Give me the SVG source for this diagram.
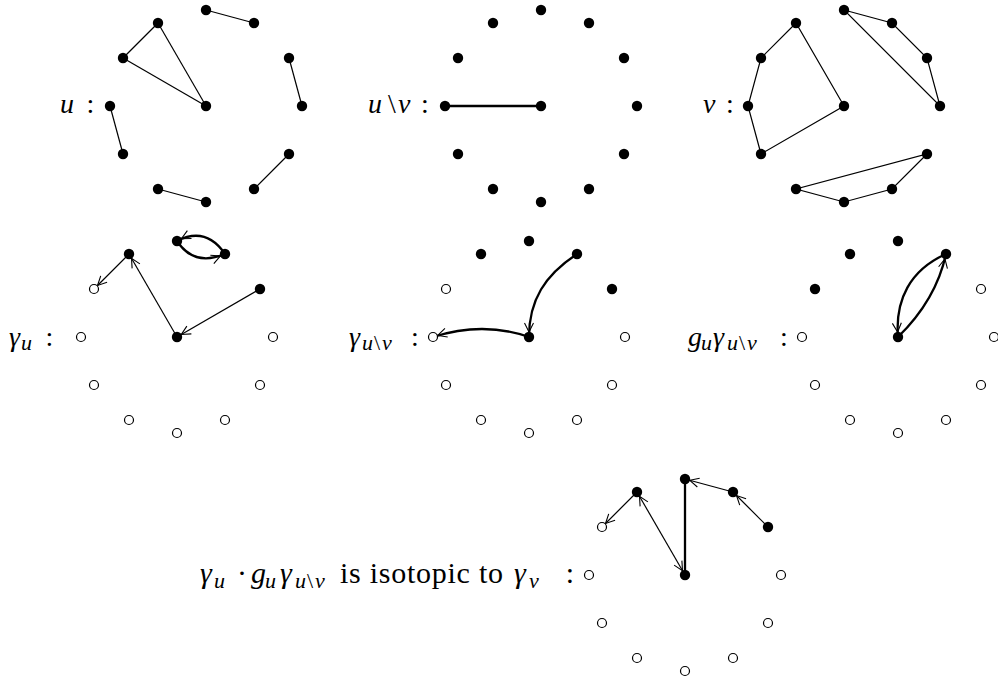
<svg xmlns="http://www.w3.org/2000/svg" width="998" height="681" viewBox="0 0 998 681">
<style>
.f{fill:#000}
.o{fill:#fff;stroke:#000;stroke-width:1.2}
.e{stroke:#000;stroke-width:1.2;fill:none}
.t{stroke:#000;stroke-width:2.3;fill:none}
.lbl{font-size:28px;fill:#000}
.big{font-size:30px}
.it{font-style:italic}
.sub{font-size:22px}
.mid{text-anchor:middle}
.ae{marker-end:url(#ah)}
.as{marker-start:url(#ahs)}
</style>
<defs>
<marker id="ah" markerUnits="userSpaceOnUse" markerWidth="20" markerHeight="14" viewBox="0 0 20 14" refX="15" refY="7" orient="auto">
<path d="M1,2.5 L10,7 L1,11.5" fill="none" stroke="#000" stroke-width="1.1"/>
</marker>
<marker id="ahs" markerUnits="userSpaceOnUse" markerWidth="20" markerHeight="14" viewBox="0 0 20 14" refX="15" refY="7" orient="auto-start-reverse">
<path d="M1,2.5 L10,7 L1,11.5" fill="none" stroke="#000" stroke-width="1.1"/>
</marker>
</defs>

<g id="labels" font-family="Liberation Serif, serif">
<text class="lbl it" x="60" y="113">u</text>
<text class="lbl mid" x="90.5" y="113">:</text>

<text class="lbl" y="113"><tspan class="it" x="368">u</tspan><tspan x="388">\</tspan><tspan class="it" x="398">v</tspan></text>
<text class="lbl mid" x="425" y="113">:</text>

<text class="lbl it" x="703" y="113">v</text>
<text class="lbl mid" x="730" y="113">:</text>

<text class="lbl"><tspan class="it" x="9" y="346">γ</tspan><tspan class="it sub" x="21" y="350">u</tspan></text>
<text class="lbl mid" x="49.5" y="346">:</text>

<text class="lbl"><tspan class="it" x="349" y="346">γ</tspan><tspan class="it sub" x="362" y="350">u</tspan><tspan class="sub" x="374" y="350">\</tspan><tspan class="it sub" x="382" y="350">v</tspan></text>
<text class="lbl mid" x="415" y="346">:</text>

<text class="lbl"><tspan class="it" x="688" y="346">g</tspan><tspan class="it sub" x="701" y="350">u</tspan><tspan class="it" x="713" y="346">γ</tspan><tspan class="it sub" x="727" y="350">u</tspan><tspan class="sub" x="739" y="350">\</tspan><tspan class="it sub" x="747" y="350">v</tspan></text>
<text class="lbl mid" x="784" y="346">:</text>

<text class="lbl big"><tspan class="it" x="200" y="583">γ</tspan><tspan class="it sub" x="214" y="588">u</tspan><tspan x="237" y="583">·</tspan><tspan class="it" x="251" y="583">g</tspan><tspan class="it sub" x="265" y="588">u</tspan><tspan class="it" x="280" y="583">γ</tspan><tspan class="it sub" x="295" y="588">u</tspan><tspan class="sub" x="307" y="588">\</tspan><tspan class="it sub" x="315" y="588">v</tspan><tspan x="340" y="583" textLength="163" lengthAdjust="spacing">is isotopic to</tspan><tspan class="it" x="514" y="583">γ</tspan><tspan class="it sub" x="529" y="588">v</tspan></text>
<text class="lbl big mid" x="570" y="583">:</text>
</g>

<g id="connectors">
<line class="e" x1="158" y1="23" x2="123" y2="58"/>
<line class="e" x1="123" y1="58" x2="206" y2="106"/>
<line class="e" x1="158" y1="23" x2="206" y2="106"/>
<line class="e" x1="206" y1="10" x2="254" y2="23"/>
<line class="e" x1="289" y1="58" x2="302" y2="106"/>
<line class="e" x1="110" y1="106" x2="123" y2="154"/>
<line class="e" x1="158" y1="189" x2="206" y2="202"/>
<line class="e" x1="254" y1="189" x2="289" y2="154"/>
<line class="t" x1="445" y1="106" x2="541" y2="106"/>
<polygon class="e" points="796,23 761,58 748,106 761,154 844,106"/>
<polygon class="e" points="844,10 892,23 927,58 940,106"/>
<polygon class="e" points="927,154 892,189 844,202 796,189"/>
<line class="e ae" x1="260" y1="289" x2="177" y2="337"/>
<line class="e ae" x1="177" y1="337" x2="129" y2="254"/>
<line class="e ae" x1="129" y1="254" x2="94" y2="289"/>
<path class="t ae" d="M225,254 Q206,226 177,241"/>
<path class="t ae" d="M177,241 Q194,267 225,254"/>
<path class="t ae" d="M577,254 C545,275 529,300 529,337"/>
<path class="t ae" d="M529,337 Q483,321 433,337"/>
<path class="t ae" d="M946,254 C910,270 895,300 898,337"/>
<path class="t ae" d="M898,337 Q936,300 946,254"/>
<line class="e ae" x1="768" y1="527" x2="733" y2="492"/>
<line class="e ae" x1="733" y1="492" x2="685" y2="479"/>
<line class="t" x1="685" y1="479" x2="685" y2="575"/>
<line class="e ae as" x1="685" y1="575" x2="637" y2="492"/>
<line class="e ae" x1="637" y1="492" x2="602" y2="527"/>
</g>

<g id="nodes-u">
<g id="u-c"><circle class="f" cx="206" cy="106" r="5.2"/></g>
<g id="u-0"><circle class="f" cx="206" cy="10" r="5.2"/></g>
<g id="u-1"><circle class="f" cx="254" cy="23" r="5.2"/></g>
<g id="u-2"><circle class="f" cx="289" cy="58" r="5.2"/></g>
<g id="u-3"><circle class="f" cx="302" cy="106" r="5.2"/></g>
<g id="u-4"><circle class="f" cx="289" cy="154" r="5.2"/></g>
<g id="u-5"><circle class="f" cx="254" cy="189" r="5.2"/></g>
<g id="u-6"><circle class="f" cx="206" cy="202" r="5.2"/></g>
<g id="u-7"><circle class="f" cx="158" cy="189" r="5.2"/></g>
<g id="u-8"><circle class="f" cx="123" cy="154" r="5.2"/></g>
<g id="u-9"><circle class="f" cx="110" cy="106" r="5.2"/></g>
<g id="u-10"><circle class="f" cx="123" cy="58" r="5.2"/></g>
<g id="u-11"><circle class="f" cx="158" cy="23" r="5.2"/></g>
</g>

<g id="nodes-uv">
<g id="uv-c"><circle class="f" cx="541" cy="106" r="5.2"/></g>
<g id="uv-0"><circle class="f" cx="541" cy="10" r="5.2"/></g>
<g id="uv-1"><circle class="f" cx="589" cy="23" r="5.2"/></g>
<g id="uv-2"><circle class="f" cx="624" cy="58" r="5.2"/></g>
<g id="uv-3"><circle class="f" cx="637" cy="106" r="5.2"/></g>
<g id="uv-4"><circle class="f" cx="624" cy="154" r="5.2"/></g>
<g id="uv-5"><circle class="f" cx="589" cy="189" r="5.2"/></g>
<g id="uv-6"><circle class="f" cx="541" cy="202" r="5.2"/></g>
<g id="uv-7"><circle class="f" cx="493" cy="189" r="5.2"/></g>
<g id="uv-8"><circle class="f" cx="458" cy="154" r="5.2"/></g>
<g id="uv-9"><circle class="f" cx="445" cy="106" r="5.2"/></g>
<g id="uv-10"><circle class="f" cx="458" cy="58" r="5.2"/></g>
<g id="uv-11"><circle class="f" cx="493" cy="23" r="5.2"/></g>
</g>

<g id="nodes-v">
<g id="v-c"><circle class="f" cx="844" cy="106" r="5.2"/></g>
<g id="v-0"><circle class="f" cx="844" cy="10" r="5.2"/></g>
<g id="v-1"><circle class="f" cx="892" cy="23" r="5.2"/></g>
<g id="v-2"><circle class="f" cx="927" cy="58" r="5.2"/></g>
<g id="v-3"><circle class="f" cx="940" cy="106" r="5.2"/></g>
<g id="v-4"><circle class="f" cx="927" cy="154" r="5.2"/></g>
<g id="v-5"><circle class="f" cx="892" cy="189" r="5.2"/></g>
<g id="v-6"><circle class="f" cx="844" cy="202" r="5.2"/></g>
<g id="v-7"><circle class="f" cx="796" cy="189" r="5.2"/></g>
<g id="v-8"><circle class="f" cx="761" cy="154" r="5.2"/></g>
<g id="v-9"><circle class="f" cx="748" cy="106" r="5.2"/></g>
<g id="v-10"><circle class="f" cx="761" cy="58" r="5.2"/></g>
<g id="v-11"><circle class="f" cx="796" cy="23" r="5.2"/></g>
</g>

<g id="nodes-gu">
<g id="gu-c"><circle class="f" cx="177" cy="337" r="5.2"/></g>
<g id="gu-0"><circle class="f" cx="177" cy="241" r="5.2"/></g>
<g id="gu-1"><circle class="f" cx="225" cy="254" r="5.2"/></g>
<g id="gu-2"><circle class="f" cx="260" cy="289" r="5.2"/></g>
<g id="gu-3"><circle class="o" cx="273" cy="337" r="4.5"/></g>
<g id="gu-4"><circle class="o" cx="260" cy="385" r="4.5"/></g>
<g id="gu-5"><circle class="o" cx="225" cy="420" r="4.5"/></g>
<g id="gu-6"><circle class="o" cx="177" cy="433" r="4.5"/></g>
<g id="gu-7"><circle class="o" cx="129" cy="420" r="4.5"/></g>
<g id="gu-8"><circle class="o" cx="94" cy="385" r="4.5"/></g>
<g id="gu-9"><circle class="o" cx="81" cy="337" r="4.5"/></g>
<g id="gu-10"><circle class="o" cx="94" cy="289" r="4.5"/></g>
<g id="gu-11"><circle class="f" cx="129" cy="254" r="5.2"/></g>
</g>

<g id="nodes-guv">
<g id="guv-c"><circle class="f" cx="529" cy="337" r="5.2"/></g>
<g id="guv-0"><circle class="f" cx="529" cy="241" r="5.2"/></g>
<g id="guv-1"><circle class="f" cx="577" cy="254" r="5.2"/></g>
<g id="guv-2"><circle class="f" cx="612" cy="289" r="5.2"/></g>
<g id="guv-3"><circle class="o" cx="625" cy="337" r="4.5"/></g>
<g id="guv-4"><circle class="o" cx="612" cy="385" r="4.5"/></g>
<g id="guv-5"><circle class="o" cx="577" cy="420" r="4.5"/></g>
<g id="guv-6"><circle class="o" cx="529" cy="433" r="4.5"/></g>
<g id="guv-7"><circle class="o" cx="481" cy="420" r="4.5"/></g>
<g id="guv-8"><circle class="o" cx="446" cy="385" r="4.5"/></g>
<g id="guv-9"><circle class="o" cx="433" cy="337" r="4.5"/></g>
<g id="guv-10"><circle class="o" cx="446" cy="289" r="4.5"/></g>
<g id="guv-11"><circle class="f" cx="481" cy="254" r="5.2"/></g>
</g>

<g id="nodes-gg">
<g id="gg-c"><circle class="f" cx="898" cy="337" r="5.2"/></g>
<g id="gg-0"><circle class="f" cx="898" cy="241" r="5.2"/></g>
<g id="gg-1"><circle class="f" cx="946" cy="254" r="5.2"/></g>
<g id="gg-2"><circle class="o" cx="981" cy="289" r="4.5"/></g>
<g id="gg-3"><circle class="o" cx="994" cy="337" r="4.5"/></g>
<g id="gg-4"><circle class="o" cx="981" cy="385" r="4.5"/></g>
<g id="gg-5"><circle class="o" cx="946" cy="420" r="4.5"/></g>
<g id="gg-6"><circle class="o" cx="898" cy="433" r="4.5"/></g>
<g id="gg-7"><circle class="o" cx="850" cy="420" r="4.5"/></g>
<g id="gg-8"><circle class="o" cx="815" cy="385" r="4.5"/></g>
<g id="gg-9"><circle class="o" cx="802" cy="337" r="4.5"/></g>
<g id="gg-10"><circle class="f" cx="815" cy="289" r="5.2"/></g>
<g id="gg-11"><circle class="f" cx="850" cy="254" r="5.2"/></g>
</g>

<g id="nodes-bottom">
<g id="b-c"><circle class="f" cx="685" cy="575" r="5.2"/></g>
<g id="b-0"><circle class="f" cx="685" cy="479" r="5.2"/></g>
<g id="b-1"><circle class="f" cx="733" cy="492" r="5.2"/></g>
<g id="b-2"><circle class="f" cx="768" cy="527" r="5.2"/></g>
<g id="b-3"><circle class="o" cx="781" cy="575" r="4.5"/></g>
<g id="b-4"><circle class="o" cx="768" cy="623" r="4.5"/></g>
<g id="b-5"><circle class="o" cx="733" cy="658" r="4.5"/></g>
<g id="b-6"><circle class="o" cx="685" cy="671" r="4.5"/></g>
<g id="b-7"><circle class="o" cx="637" cy="658" r="4.5"/></g>
<g id="b-8"><circle class="o" cx="602" cy="623" r="4.5"/></g>
<g id="b-9"><circle class="o" cx="589" cy="575" r="4.5"/></g>
<g id="b-10"><circle class="o" cx="602" cy="527" r="4.5"/></g>
<g id="b-11"><circle class="f" cx="637" cy="492" r="5.2"/></g>
</g>
</svg>
